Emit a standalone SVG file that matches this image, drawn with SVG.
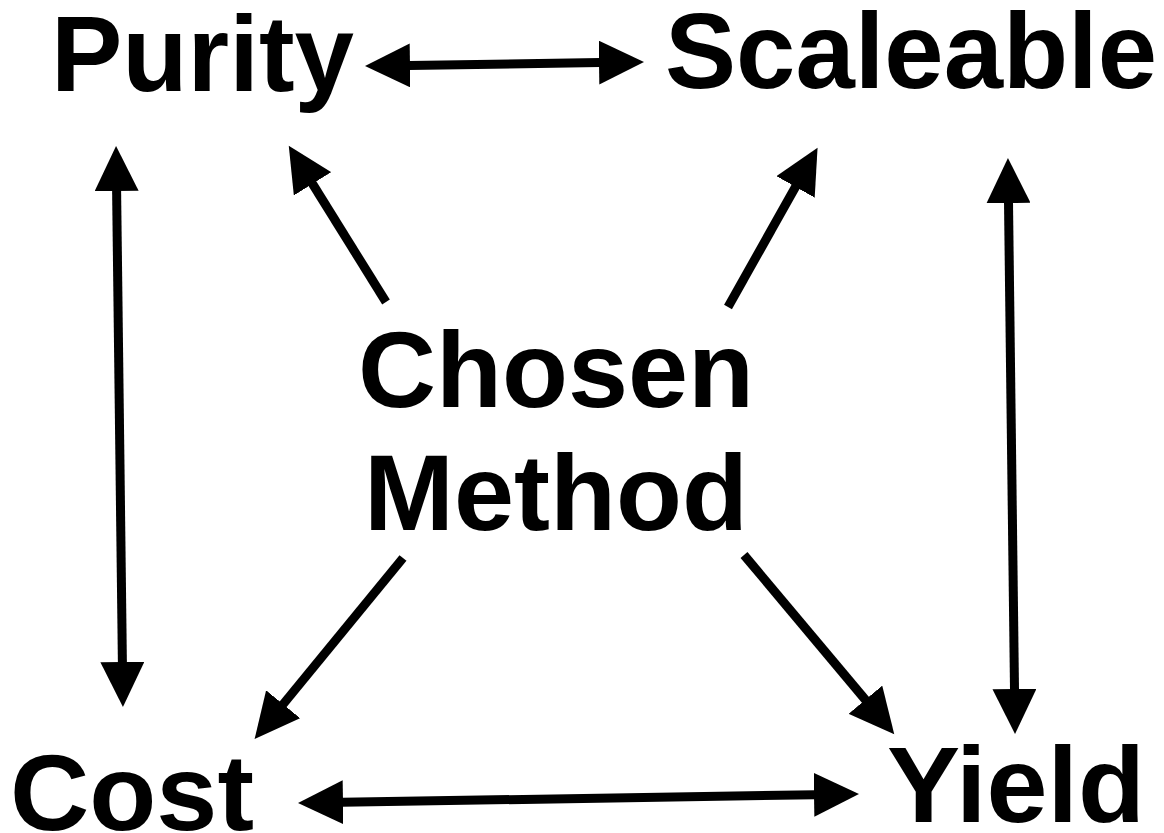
<svg xmlns="http://www.w3.org/2000/svg" width="1164" height="833" viewBox="0 0 1164 833">
  <style>
    .label { font-family: "Liberation Sans", Arial, sans-serif; font-weight: bold; font-size: 108px; fill: #000; }
    .link { stroke: #000; stroke-width: 9; fill: none; stroke-linecap: butt; }
    .one { marker-end: url(#head); }
    .two { marker-start: url(#head); marker-end: url(#head); }
  </style>
  <defs>
    <marker id="head" markerUnits="userSpaceOnUse" viewBox="0 0 46 44" markerWidth="46" markerHeight="44" refX="1" refY="22" orient="auto-start-reverse">
      <path d="M0,0 L45,22 L0,44 Z" fill="#000"/>
    </marker>
  </defs>
  <rect width="1164" height="833" fill="#fff"/>

  <g id="connectors">
    <!-- two-way links along the outer square -->
    <line class="link two" x1="409" y1="65.4" x2="600" y2="62.6"/>
    <line class="link two" x1="342" y1="802.3" x2="815" y2="794.7"/>
    <line class="link two" x1="116.6" y1="190" x2="122.4" y2="663"/>
    <line class="link two" x1="1008.5" y1="202" x2="1014.5" y2="690"/>
    <!-- links out of the centre -->
    <line class="link one" x1="386" y1="302" x2="312" y2="183"/>
    <line class="link one" x1="728" y1="307" x2="796" y2="186"/>
    <line class="link one" x1="403" y1="558" x2="282.5" y2="705"/>
    <line class="link one" x1="744" y1="555" x2="866" y2="700.5"/>
  </g>

  <g id="purity"><text class="label" x="51" y="91" textLength="303" lengthAdjust="spacingAndGlyphs">Purity</text></g>
  <g id="scaleable"><text class="label" x="665" y="88" textLength="492" lengthAdjust="spacingAndGlyphs">Scaleable</text></g>
  <g id="chosen-method">
    <text class="label" x="358" y="407" textLength="396" lengthAdjust="spacingAndGlyphs">Chosen</text>
    <text class="label" x="364" y="530" textLength="384" lengthAdjust="spacingAndGlyphs">Method</text>
  </g>
  <g id="cost"><text class="label" x="10" y="830" textLength="244" lengthAdjust="spacingAndGlyphs">Cost</text></g>
  <g id="yield"><text class="label" x="887" y="822" textLength="258" lengthAdjust="spacingAndGlyphs">Yield</text></g>
</svg>
